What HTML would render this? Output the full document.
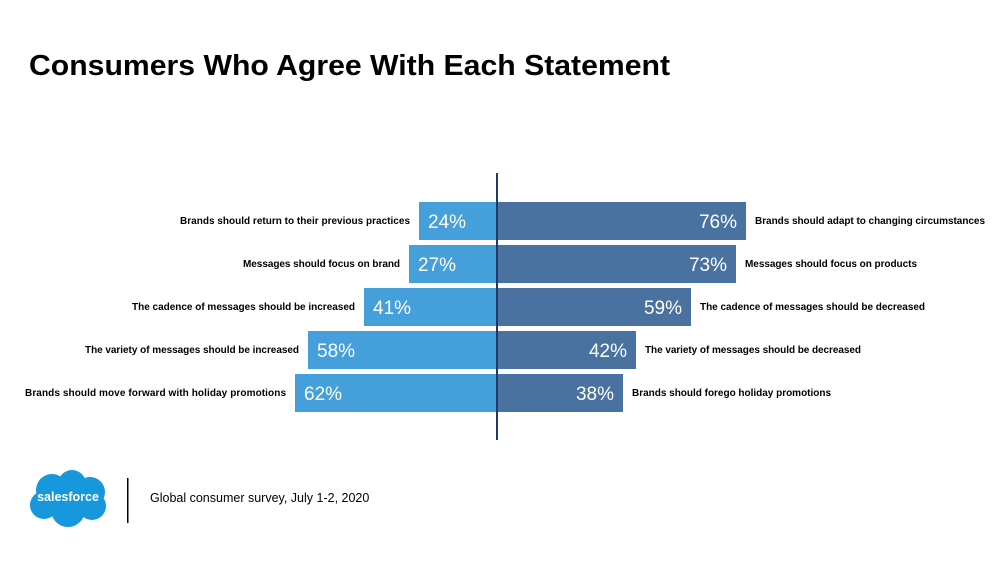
<!DOCTYPE html>
<html><head><meta charset="utf-8"><style>
body{margin:0;background:#fff;}
svg{display:block;font-family:"Liberation Sans",sans-serif;}
</style></head><body>
<svg width="1000" height="578" viewBox="0 0 1000 578">
<text x="29" y="75" font-size="29" font-weight="bold" fill="#000" textLength="641" lengthAdjust="spacingAndGlyphs">Consumers Who Agree With Each Statement</text>
<g fill="#449fdb">
<rect x="419" y="202" width="79" height="38"/>
<rect x="409" y="245" width="89" height="38"/>
<rect x="364" y="288" width="134" height="38"/>
<rect x="308" y="331" width="190" height="38"/>
<rect x="295" y="374" width="203" height="38"/>
</g>
<g fill="#4a72a0">
<rect x="498" y="202" width="248" height="38"/>
<rect x="498" y="245" width="238" height="38"/>
<rect x="498" y="288" width="193" height="38"/>
<rect x="498" y="331" width="138" height="38"/>
<rect x="498" y="374" width="125" height="38"/>
</g>
<rect x="496" y="173" width="2" height="267" fill="#1f3a68"/>
<g fill="#fff" font-size="19">
<text x="428" y="228">24%</text>
<text x="418" y="271">27%</text>
<text x="373" y="314">41%</text>
<text x="317" y="357">58%</text>
<text x="304" y="400">62%</text>
</g>
<g fill="#fff" font-size="19" text-anchor="end">
<text x="737" y="228">76%</text>
<text x="727" y="271">73%</text>
<text x="682" y="314">59%</text>
<text x="627" y="357">42%</text>
<text x="614" y="400">38%</text>
</g>
<g fill="#000" font-size="10" font-weight="bold" lengthAdjust="spacingAndGlyphs">
<text x="180" y="224" textLength="230">Brands should return to their previous practices</text>
<text x="243" y="267" textLength="157">Messages should focus on brand</text>
<text x="132" y="310" textLength="223">The cadence of messages should be increased</text>
<text x="85" y="353" textLength="214">The variety of messages should be increased</text>
<text x="25" y="396" textLength="261">Brands should move forward with holiday promotions</text>
<text x="755" y="224" textLength="230">Brands should adapt to changing circumstances</text>
<text x="745" y="267" textLength="172">Messages should focus on products</text>
<text x="700" y="310" textLength="225">The cadence of messages should be decreased</text>
<text x="645" y="353" textLength="216">The variety of messages should be decreased</text>
<text x="632" y="396" textLength="199">Brands should forego holiday promotions</text>
</g>
<g fill="#1798dc">
<circle cx="52" cy="490" r="16"/>
<circle cx="72" cy="484" r="14"/>
<circle cx="90" cy="492" r="15"/>
<circle cx="44" cy="505" r="14"/>
<circle cx="68" cy="510" r="17"/>
<circle cx="92" cy="506" r="14"/>
</g>
<text x="68" y="501" font-size="12.5" font-weight="bold" fill="#fff" text-anchor="middle">salesforce</text>
<rect x="127" y="478" width="1.5" height="45" fill="#000"/>
<text x="150" y="502" font-size="12.5" fill="#000">Global consumer survey, July 1-2, 2020</text>
</svg>
</body></html>
